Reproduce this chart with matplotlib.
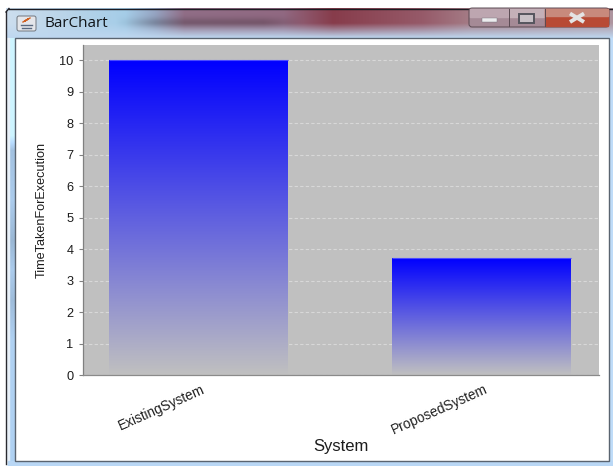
import numpy as np
import matplotlib
matplotlib.use("Agg")
import matplotlib.pyplot as plt
from matplotlib.colors import LinearSegmentedColormap
from matplotlib.patches import Rectangle, FancyBboxPatch

plt.rcParams['font.family'] = ['Liberation Sans', 'DejaVu Sans']

# chart data
systems = ["ExistingSystem", "ProposedSystem"]
times = [10.0, 3.7]
y_ticks = [0, 1, 2, 3, 4, 5, 6, 7, 8, 9, 10]

W, H = 613, 466
PLOT_BG = "#c0c0c0"

fig = plt.figure(figsize=(W / 100, H / 100), dpi=100, facecolor="white")

# ---- window frame, drawn in pixel coordinates ----
frame = fig.add_axes([0, 0, 1, 1])
frame.set_xlim(0, W)
frame.set_ylim(H, 0)
frame.axis("off")

# title bar colour across the width, aero glass look
stop_x = [0, 60, 120, 150, 180, 280, 330, 420, 470, 613]
stop_r = [205, 185, 165, 150, 145, 145, 135, 150, 165, 175]
stop_g = [222, 212, 205, 165, 110, 105, 60, 90, 125, 150]
stop_b = [238, 232, 232, 195, 135, 130, 75, 105, 135, 160]
xs = np.arange(W)
top_row = np.stack([np.interp(xs, stop_x, stop_r),
                    np.interp(xs, stop_x, stop_g),
                    np.interp(xs, stop_x, stop_b)], axis=1)
bar_h = 31
fade = np.clip(np.linspace(-1.0, 1.05, bar_h), 0, 1)[:, None, None]
glass = np.array([190, 215, 240], dtype=float)
title_img = top_row[None, :, :] * (1 - fade) + glass * fade
# dark smear behind the title text
yy, xx = np.mgrid[0:bar_h, 0:W]
smear = np.exp(-((yy - 14) / 5.0) ** 2) * np.clip((xx - 110) / 40, 0, 1) * np.clip((300 - xx) / 40, 0, 1)
title_img = title_img * (1 - 0.18 * smear[:, :, None])
frame.imshow(title_img / 255, extent=(6, W, 39, 8), aspect="auto", zorder=1)

# side borders
left_y = [38, 135, 150, 200, 240, 270, 300, 340, 462]
left_c = [0.96, 0.96, 0.76, 0.8, 0.72, 0.8, 0.74, 0.82, 0.82]
left_img = np.interp(np.arange(38, 466), left_y, left_c)[:, None, None] * np.array([0.84, 1.0, 1.16])
frame.imshow(np.clip(left_img, 0, 1), extent=(8, 15, 466, 38), aspect="auto", zorder=1)
frame.add_patch(Rectangle((7, 38), 1.5, 428, color="#e8f0f8", zorder=1))
frame.add_patch(Rectangle((609, 38), 4, 428, color="#bfdcf8", zorder=1))
frame.add_patch(Rectangle((8, 461), 605, 5, color="#b9d7f5", zorder=1))

# outer dark edge
frame.plot([6, 6], [12, 464], color="#2a2a30", lw=1.0, zorder=2)
frame.plot([9, W], [8.5, 8.5], color="#1c1c22", lw=1.0, zorder=2)
frame.plot([6, 9], [12, 8.5], color="#1c1c22", lw=1.0, zorder=2)

# client area
frame.add_patch(Rectangle((15, 38), 594, 423, facecolor="white",
                          edgecolor="#5a6470", lw=1.0, zorder=3))

# caption buttons
frame.add_patch(FancyBboxPatch((469, 8), 140, 19, boxstyle="round,pad=0,rounding_size=3",
                               facecolor="#a58a96", edgecolor="#5a4a52", lw=0.7, zorder=4))
frame.add_patch(Rectangle((470, 9), 38, 8, color="#bda6b0", zorder=4))
frame.add_patch(Rectangle((509, 9), 35, 8, color="#c4b0b8", zorder=4))
frame.add_patch(Rectangle((545, 9), 63, 17, color="#b84a34", zorder=4))
frame.add_patch(Rectangle((545, 9), 63, 7, color="#c88a7c", zorder=4))
frame.plot([508.5, 508.5], [9, 26], color="#5a4a52", lw=0.7, zorder=5)
frame.plot([544.5, 544.5], [9, 26], color="#5a4a52", lw=0.7, zorder=5)
frame.add_patch(Rectangle((482, 18), 15, 3.5, facecolor="#ececee", edgecolor="#70707a", lw=0.3, zorder=5))
frame.add_patch(Rectangle((519, 14), 14.5, 8.5, facecolor="#c8c0c6", edgecolor="#55555e", lw=1.4, zorder=5))
frame.plot([570, 584], [13.5, 22], color="#e4e4e4", lw=2.8, zorder=5, solid_capstyle="butt")
frame.plot([570, 584], [22, 13.5], color="#e4e4e4", lw=2.8, zorder=5, solid_capstyle="butt")

# java cup icon and window title
frame.add_patch(FancyBboxPatch((17, 16), 19, 15, boxstyle="round,pad=0,rounding_size=2",
                               facecolor="#e4e6ea", edgecolor="#70767e", lw=0.7, zorder=4))
frame.plot([23, 28, 25, 30], [22, 19, 21, 18], color="#d06020", lw=1.0, zorder=5)
frame.plot([21, 32], [25, 25], color="#5a6a80", lw=1.0, zorder=5)
frame.plot([22, 31], [27.5, 27.5], color="#5a6a80", lw=1.0, zorder=5)
frame.text(45, 23.5, "BarChart", fontsize=11, color="#101418", va="center", ha="left",
           family="Open Sans", zorder=5)

# ---- bar chart ----
ax = fig.add_axes([83 / W, 1 - 375 / H, 516 / W, 330 / H], facecolor=PLOT_BG)
ax.set_axisbelow(True)

positions = np.arange(len(systems))
bar_width = 0.6325
bars = ax.bar(positions, times, width=bar_width, color="none", edgecolor="none", zorder=3)

# each bar fades from pure blue at the top into the plot background at zero
fade_cmap = LinearSegmentedColormap.from_list("blue_fade", [PLOT_BG, "#0000ff"])
ramp = np.linspace(1, 0, 256)[:, None]
for bar in bars:
    x0, y0, x1, y1 = bar.get_bbox().extents
    ax.imshow(ramp, cmap=fade_cmap, vmin=0, vmax=1, extent=(x0, x1, y0, y1),
              aspect="auto", interpolation="bilinear", zorder=2)
    ax.plot([x0, x1], [y1, y1], color="#4a4aff", lw=0.8, zorder=3, solid_capstyle="butt")

ax.set_xlim(-0.408, 1.416)
ax.set_ylim(0, 10.48)

ax.set_yticks(y_ticks)
ax.set_xticks(positions)
ax.set_xticklabels(systems, rotation=24, ha="right", va="top", rotation_mode="anchor",
                   fontsize=9.8, color="#202020")
ax.tick_params(axis="x", length=0, pad=5)
ax.tick_params(axis="y", length=3, width=0.8, color="#808080", labelsize=9.2,
               labelcolor="#1c1c1c", pad=4)

# nudge the slanted labels to the right of their category centres
offset = matplotlib.transforms.ScaledTranslation(3 / 100, 0, fig.dpi_scale_trans)
for lab in ax.get_xticklabels():
    lab.set_transform(lab.get_transform() + offset)

ax.yaxis.grid(True, color="#d8d8d8", lw=0.8, linestyle=(0, (3, 2)), zorder=1)

for side in ("top", "right"):
    ax.spines[side].set_visible(False)
ax.spines["left"].set_color("#808080")
ax.spines["left"].set_linewidth(0.9)
ax.spines["bottom"].set_color("#8a8a8a")
ax.spines["bottom"].set_linewidth(0.9)
ax.spines["bottom"].set_linestyle((0, (2, 1)))

ax.set_xlabel("System", fontsize=12, color="#1c1c1c", labelpad=5)
ax.set_ylabel("TimeTakenForExecution", fontsize=9.1, color="#1c1c1c", labelpad=8)
ax.yaxis.set_label_coords((42 - 83) / 516, 0.5)
ax.xaxis.set_label_coords(0.5, -(446 - 375) / 330, transform=ax.transAxes)
ax.xaxis.label.set_verticalalignment("center")
ax.yaxis.label.set_verticalalignment("center")

fig.savefig("out.png", dpi=100)
